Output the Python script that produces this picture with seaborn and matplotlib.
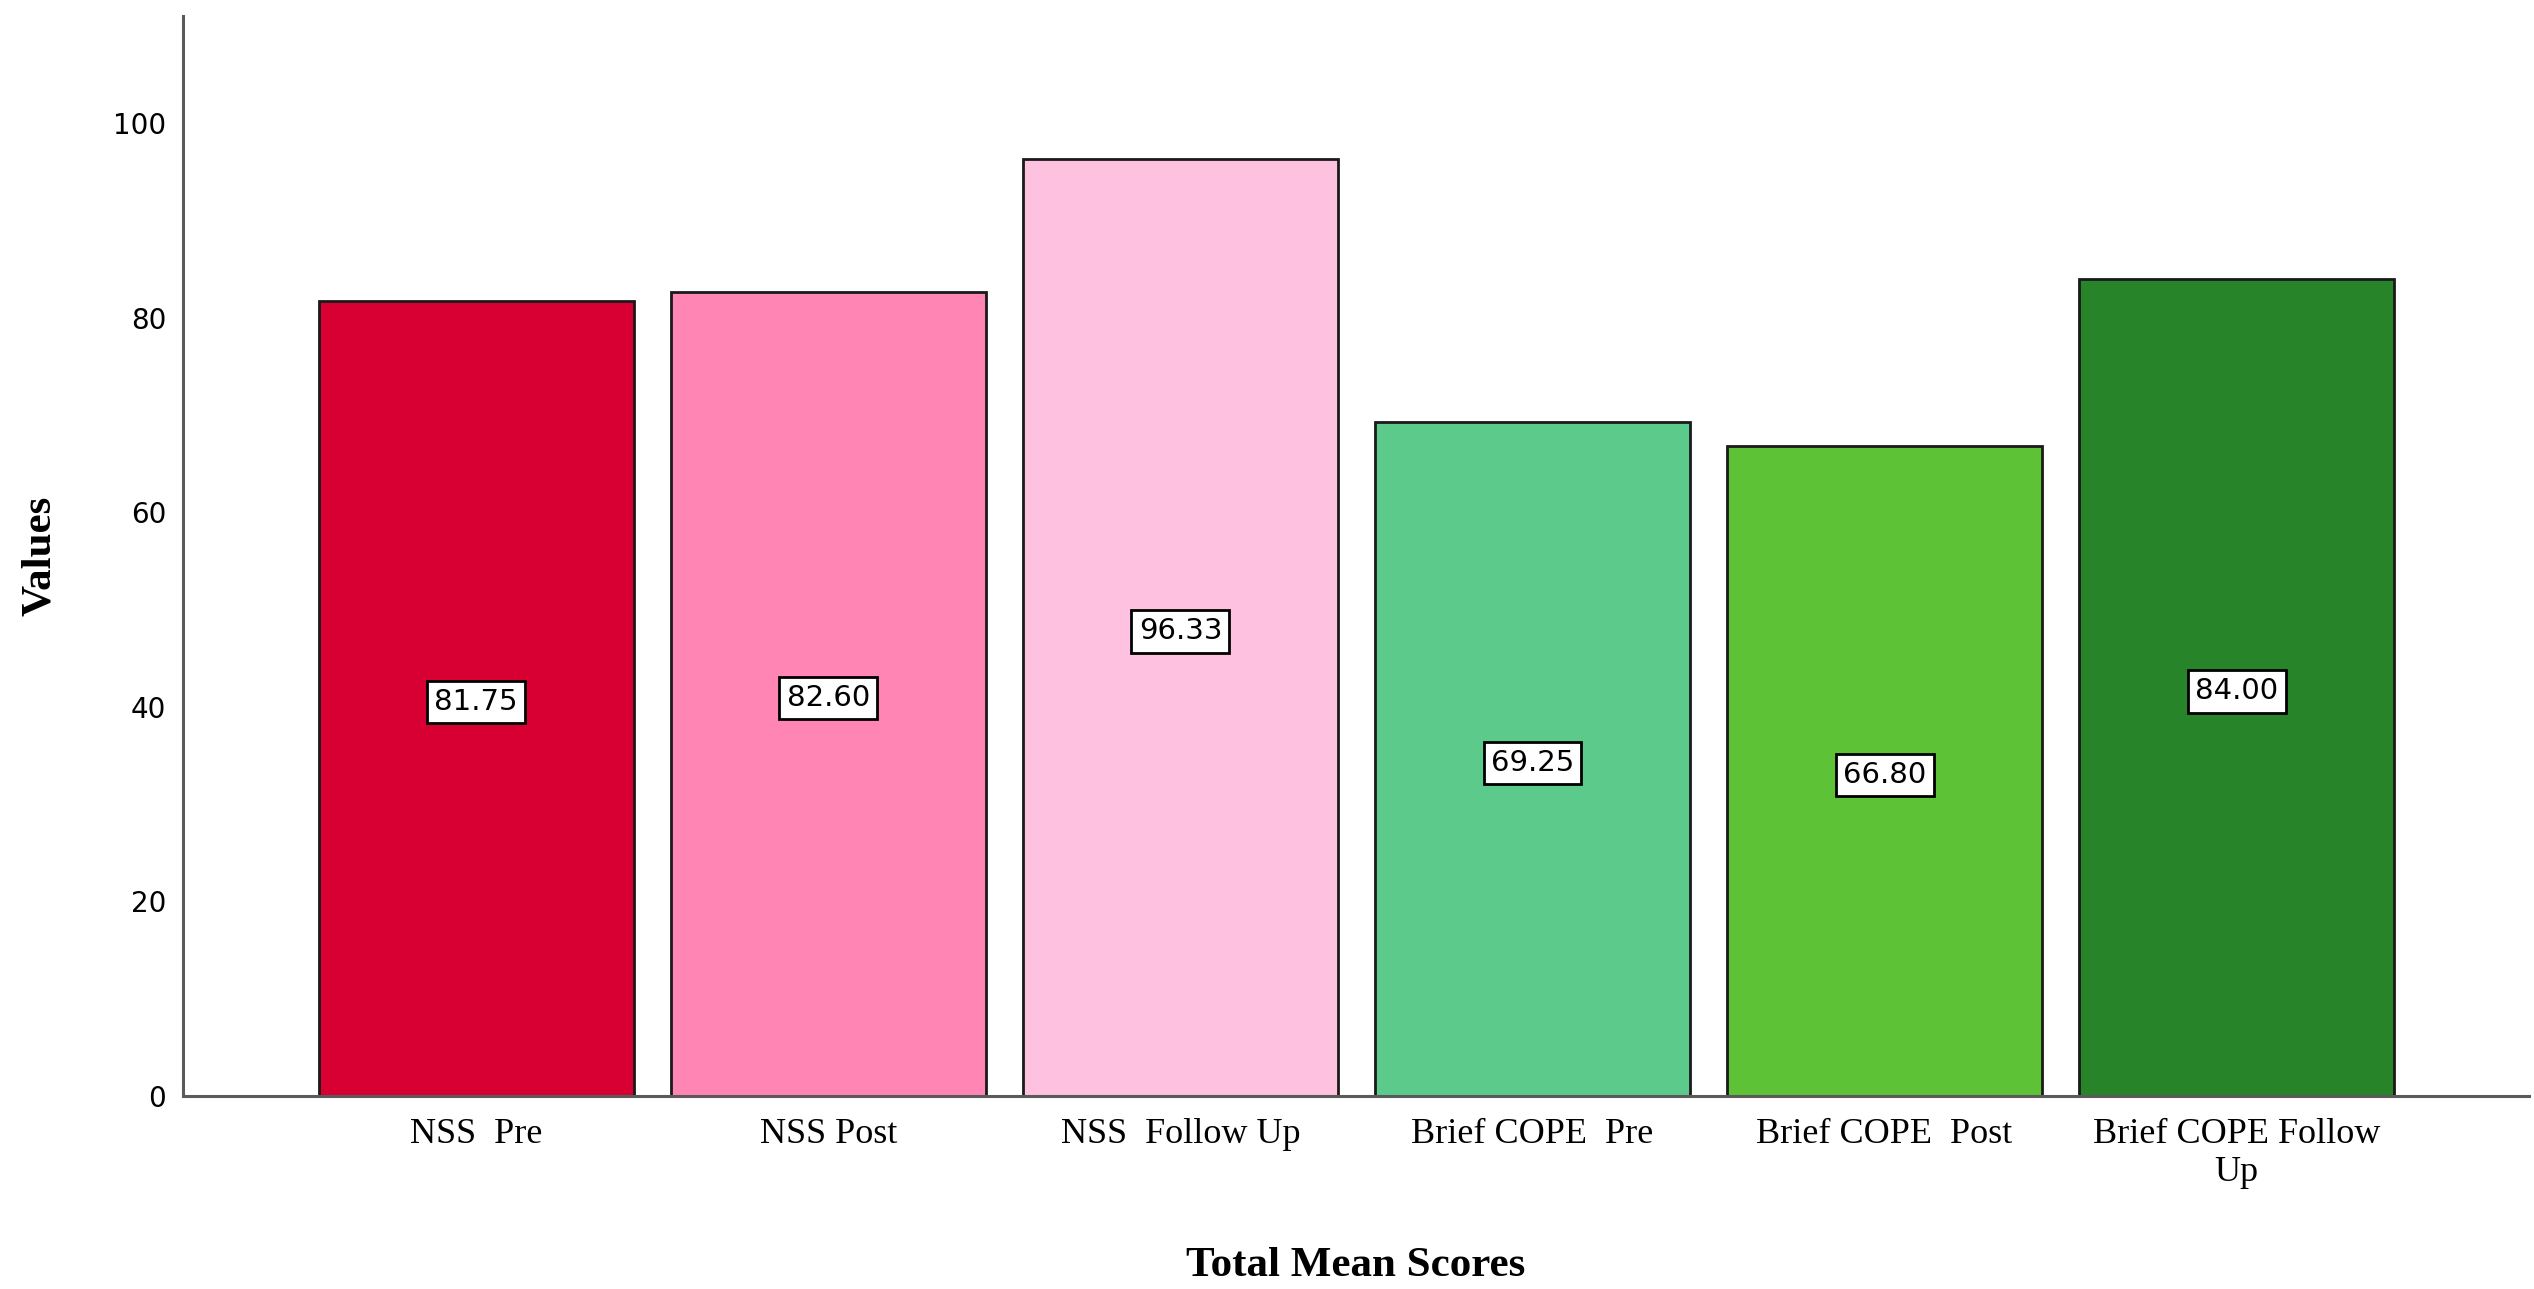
import matplotlib
matplotlib.use("Agg")
import matplotlib.pyplot as plt
import pandas as pd
import seaborn as sns

# values
categories = ["NSS  Pre", "NSS Post", "NSS  Follow Up",
              "Brief COPE  Pre", "Brief COPE  Post", "Brief COPE Follow\nUp"]
mean_scores = [81.75, 82.60, 96.33, 69.25, 66.80, 84.00]
bar_colors = ["#D80032", "#FF85B5", "#FFC1E0", "#5CCA8B", "#5EC237", "#288428"]
y_ticks = [0, 20, 40, 60, 80, 100]

df = pd.DataFrame({"measure": categories, "score": mean_scores})

sns.set_style("white")
plt.rcParams["text.color"] = "black"
plt.rcParams["xtick.color"] = "black"
plt.rcParams["ytick.color"] = "black"
plt.rcParams["axes.labelcolor"] = "black"

fig = plt.figure(figsize=(25.34, 12.89), dpi=100)
ax = fig.add_axes([0.0722, 0.1497, 0.9258, 0.8379])

sns.barplot(data=df, x="measure", y="score", hue="measure", palette=bar_colors,
            order=categories, hue_order=categories, dodge=False, legend=False,
            saturation=1, width=0.895, edgecolor="#1a1a1a", linewidth=2, ax=ax)

ax.set_xlim(-0.833, 5.83)
ax.set_ylim(0, 111)
ax.set_yticks(y_ticks)

# value labels in white boxes at half bar height
for i, v in enumerate(mean_scores):
    ax.text(i, v / 2 - 0.4, f"{v:.2f}", ha="center", va="center", fontsize=21,
            family="DejaVu Sans", color="black",
            bbox=dict(boxstyle="square,pad=0.25", facecolor="white",
                      edgecolor="black", linewidth=2))

for side in ("top", "right"):
    ax.spines[side].set_visible(False)
for side in ("left", "bottom"):
    ax.spines[side].set_color("#5a5a5a")
    ax.spines[side].set_linewidth(2.2)

ax.tick_params(axis="y", length=0, pad=12, labelsize=20)
ax.tick_params(axis="x", length=0, pad=16, labelsize=26)
for lab in ax.get_yticklabels():
    lab.set_family("DejaVu Sans")
for lab in ax.get_xticklabels():
    lab.set_family("Liberation Serif")

ax.set_xlabel("Total Mean Scores", fontsize=31, fontweight="bold",
              family="Liberation Serif")
ax.set_ylabel("Values", fontsize=31, fontweight="bold", family="Liberation Serif")
ax.xaxis.set_label_coords(0.5, -0.14)
ax.yaxis.set_label_coords(-0.053, 0.5)

fig.savefig("out.png", dpi=100)
